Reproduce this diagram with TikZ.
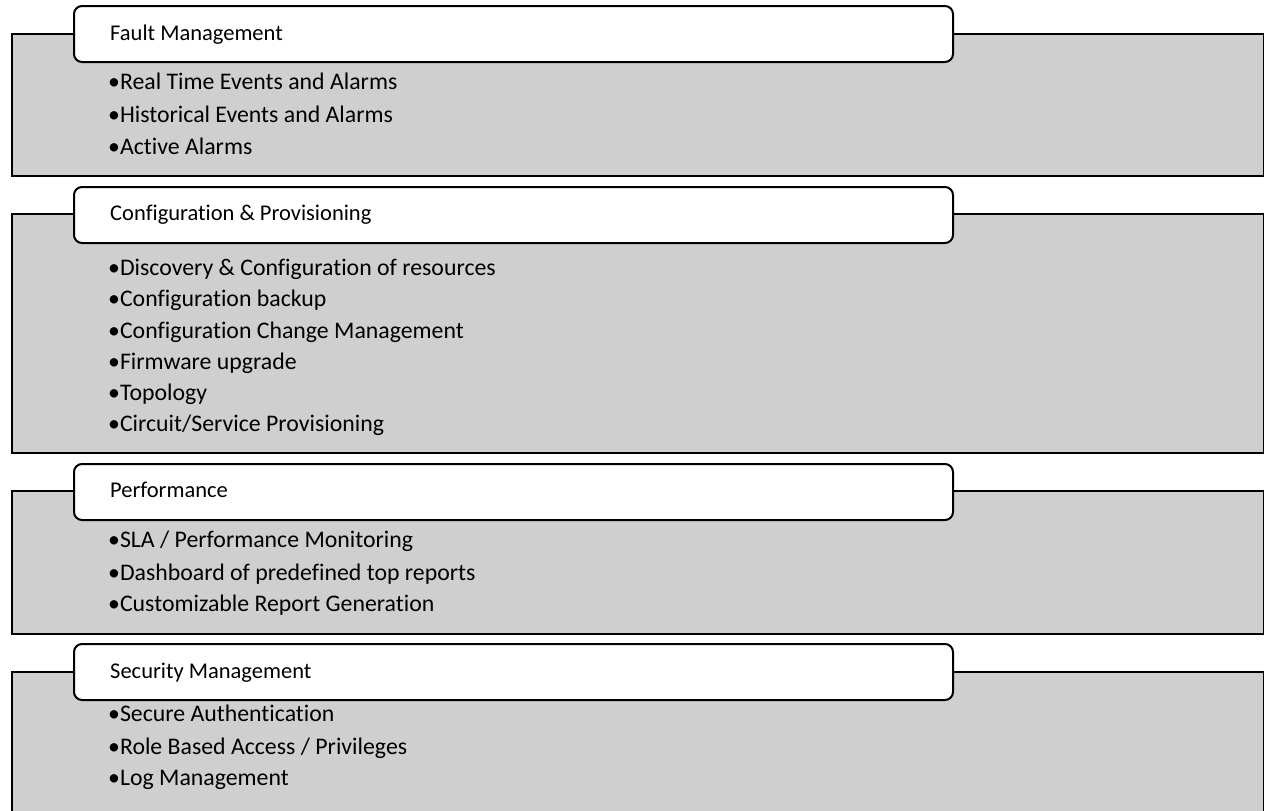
\documentclass[tikz,border=0pt]{standalone}
\usepackage{fontspec}
\setmainfont{Carlito}[Ligatures={NoCommon,NoRequired,NoContextual}]
\begin{document}
\begin{tikzpicture}[x=1pt,y=-1pt,
  graybox/.style={draw=black,line width=2pt,fill=boxgray,anchor=north west,inner sep=0pt},
  headbox/.style={draw=black,line width=2pt,fill=white,rounded corners=8pt,anchor=north west,inner sep=0pt,minimum width=879pt,minimum height=56pt},
  headtext/.style={anchor=base west,inner sep=0pt,font=\fontsize{22.5}{27}\selectfont},
  item/.style={anchor=base west,inner sep=0pt,font=\fontsize{23.8}{28}\selectfont}]
\definecolor{boxgray}{HTML}{CFCFCF}
\useasboundingbox (0,0) rectangle (1264,811);
% Box 1
\node[graybox,minimum width=1252pt,minimum height=142pt] (g1) at (11,33) {};
\node[headbox] (h1) at (73,5) {};
\node[headtext] (t1) at (110,40) {Fault Management};
\node[item] (i11) at (108,89.5) {•Real Time Events and Alarms};
\node[item] (i12) at (108,122) {•Historical Events and Alarms};
\node[item] (i13) at (108,154) {•Active Alarms};
% Box 2
\node[graybox,minimum width=1252pt,minimum height=239pt] (g2) at (11,213) {};
\node[headbox] (h2) at (73,186) {};
\node[headtext] (t2) at (110,220) {Configuration \& Provisioning};
\node[item] (i21) at (108,275.5) {•Discovery \& Configuration of resources};
\node[item] (i22) at (108,306.5) {•Configuration backup};
\node[item] (i23) at (108,338) {•Configuration Change Management};
\node[item] (i24) at (108,369.5) {•Firmware upgrade};
\node[item] (i25) at (108,400.5) {•Topology};
\node[item] (i26) at (108,431.5) {•Circuit/Service Provisioning};
% Box 3
\node[graybox,minimum width=1252pt,minimum height=143pt] (g3) at (11,490) {};
\node[headbox] (h3) at (73,463) {};
\node[headtext] (t3) at (110,497) {Performance};
\node[item] (i31) at (108,547.5) {•SLA / Performance Monitoring};
\node[item] (i32) at (108,580) {•Dashboard of predefined top reports};
\node[item] (i33) at (108,611.5) {•Customizable Report Generation};
% Box 4
\node[graybox,minimum width=1252pt,minimum height=160pt] (g4) at (11,671) {};
\node[headbox] (h4) at (73,643) {};
\node[headtext] (t4) at (110,678) {Security Management};
\node[item] (i41) at (108,721.5) {•Secure Authentication};
\node[item] (i42) at (108,754) {•Role Based Access / Privileges};
\node[item] (i43) at (108,785) {•Log Management};
\end{tikzpicture}
\end{document}
